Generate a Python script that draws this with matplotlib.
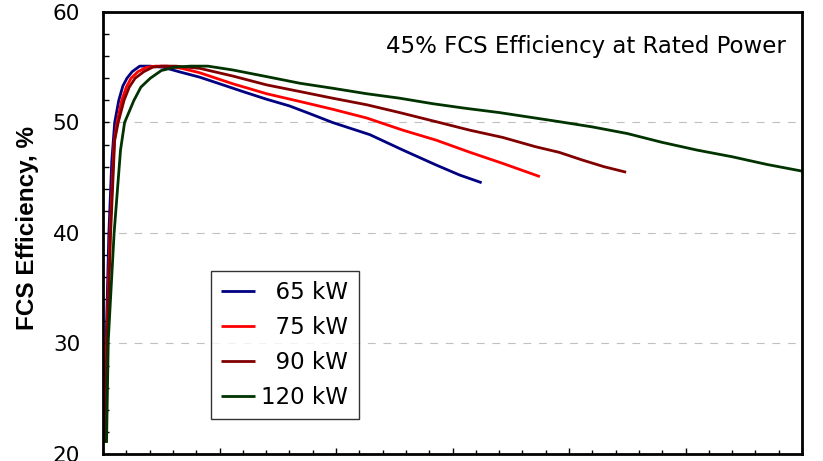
import matplotlib
matplotlib.use("Agg")
import matplotlib.pyplot as plt
from matplotlib.ticker import MultipleLocator

plt.rcParams['font.family'] = ['DejaVu Sans']

# net power (kW) vs FCS efficiency (%)
p65 = [0.15, 0.5, 1.0, 1.5, 2.0, 2.7, 3.4, 4.1, 5.0, 6.3, 8.0, 10.3, 13.0, 16.6, 20.6, 24.0,
       28.1, 32.0, 35.5, 39.4, 45.8, 51.5, 57.2, 61.2, 65.0]
e65 = [21.0, 29.5, 40.0, 46.5, 50.0, 52.0, 53.3, 54.0, 54.6, 55.1, 55.1, 55.0, 54.6, 54.1, 53.4, 52.8,
       52.1, 51.5, 50.8, 50.0, 48.9, 47.5, 46.15, 45.25, 44.55]

p75 = [0.2, 0.63, 1.2, 1.9, 2.4, 3.2, 4.0, 4.8, 6.0, 7.5, 9.0, 11.0, 13.5, 16.6, 22.3, 28.1,
       33.8, 39.4, 45.3, 51.5, 57.2, 63.0, 68.6, 75.0]
e75 = [21.0, 30.3, 40.0, 48.2, 50.0, 52.0, 53.2, 54.0, 54.6, 55.0, 55.1, 55.1, 54.9, 54.5, 53.5, 52.6,
       51.9, 51.2, 50.4, 49.3, 48.4, 47.3, 46.3, 45.1]

p90 = [0.3, 0.7, 1.3, 2.0, 2.6, 3.6, 4.5, 5.5, 7.0, 8.5, 10.0, 12.5, 16.6, 22.3, 28.1, 33.8,
       39.4, 45.3, 50.9, 57.2, 63.0, 68.6, 74.3, 78.3, 82.3, 86.0, 89.8]
e90 = [21.0, 30.3, 40.0, 48.4, 50.0, 52.0, 53.2, 54.0, 54.6, 55.0, 55.1, 55.1, 54.9, 54.2, 53.4, 52.8,
       52.2, 51.6, 50.9, 50.07, 49.3, 48.65, 47.8, 47.3, 46.6, 46.0, 45.5]

p120 = [0.6, 0.9, 1.9, 3.0, 3.7, 5.3, 6.5, 8.1, 10.0, 12.3, 15.0, 18.0, 22.3, 28.1, 33.8, 39.4,
        45.3, 50.9, 56.6, 62.0, 68.0, 73.0, 78.0, 84.0, 90.0, 96.0, 102.0, 108.0, 114.0, 120.0]
e120 = [21.0, 30.3, 40.0, 47.5, 50.0, 52.0, 53.2, 54.0, 54.7, 55.0, 55.1, 55.1, 54.75, 54.15, 53.55, 53.1,
        52.6, 52.2, 51.7, 51.3, 50.9, 50.5, 50.1, 49.6, 49.0, 48.2, 47.5, 46.9, 46.2, 45.6]

labels = ['  65 kW', '  75 kW', '  90 kW', '120 kW']
colors = ['#000080', '#ff0000', '#800000', '#003300']

fig = plt.figure(figsize=(8.23, 4.61), dpi=100)
ax = fig.add_axes([0.1252, 0.0152, 0.8493, 0.9588])

for px, ey, lab, c in zip([p65, p75, p90, p120], [e65, e75, e90, e120], labels, colors):
    ax.plot(px, ey, color=c, lw=2, label=lab, solid_capstyle='butt')

ax.set_xlim(0, 120)
ax.set_ylim(20, 60)
ax.xaxis.set_major_locator(MultipleLocator(20))
ax.xaxis.set_minor_locator(MultipleLocator(4))
ax.yaxis.set_major_locator(MultipleLocator(10))
ax.yaxis.set_minor_locator(MultipleLocator(2))
ax.tick_params(axis='x', which='major', direction='in', length=4.5, width=1, labelbottom=False)
ax.tick_params(axis='x', which='minor', direction='in', length=2.8, width=1)
ax.tick_params(axis='y', which='both', direction='in', length=4.5, width=1, labelsize=15.5, pad=16.5)

for s in ax.spines.values():
    s.set_linewidth(2)

for g in [30, 40, 50]:
    ax.axhline(g, color='#c0c0c0', lw=0.8, dashes=(7, 7), zorder=0)

ax.set_ylabel('FCS Efficiency, %', fontsize=17.5, fontweight='bold',
              family=['Liberation Sans', 'DejaVu Sans'])
ax.yaxis.set_label_coords(-0.092, 0.512)

ax.text(0.977, 0.923, '45% FCS Efficiency at Rated Power', transform=ax.transAxes,
        ha='right', va='center', fontsize=16.5)

leg = ax.legend(loc='lower left', bbox_to_anchor=(0.154, 0.079), fontsize=16.5, frameon=True,
                fancybox=False, edgecolor='black', handlelength=1.5, handletextpad=0.26,
                labelspacing=0.52, borderpad=0.45, borderaxespad=0)
leg.get_frame().set_linewidth(1)

fig.savefig('out.png', dpi=100)
